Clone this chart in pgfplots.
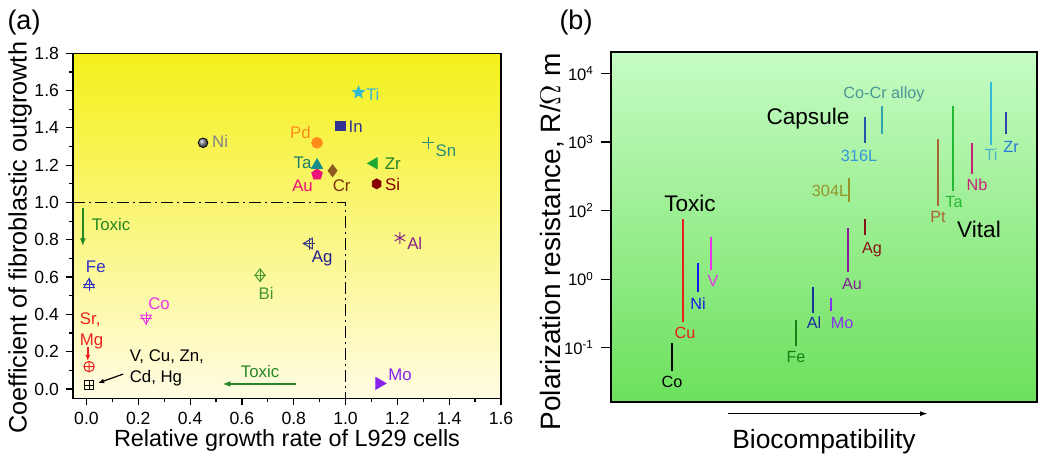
\documentclass[border=0pt]{standalone}
\usepackage{pgfplots}
\pgfplotsset{compat=1.18}
\usepackage{fontspec}
\setmainfont{Liberation Sans}
\usetikzlibrary{arrows.meta}
\definecolor{yTop}{RGB}{245,240,25}
\definecolor{yBot}{RGB}{255,252,228}
\definecolor{gTop}{RGB}{198,252,196}
\definecolor{gBot}{RGB}{108,224,92}
\definecolor{cNi}{RGB}{130,130,140}
\definecolor{cPd}{RGB}{255,140,26}
\definecolor{cIn}{RGB}{50,50,150}
\definecolor{cTi}{RGB}{50,185,215}
\definecolor{cSn}{RGB}{40,140,120}
\definecolor{cTa}{RGB}{25,140,140}
\definecolor{cTaL}{RGB}{30,125,105}
\definecolor{cAu}{RGB}{235,20,120}
\definecolor{cCr}{RGB}{140,90,30}
\definecolor{cCrL}{RGB}{120,50,10}
\definecolor{cZr}{RGB}{30,170,50}
\definecolor{cZrL}{RGB}{30,130,40}
\definecolor{cSi}{RGB}{135,0,0}
\definecolor{cAl}{RGB}{135,35,135}
\definecolor{cAg}{RGB}{60,60,130}
\definecolor{cAgL}{RGB}{30,30,140}
\definecolor{cBi}{RGB}{70,150,50}
\definecolor{cFe}{RGB}{50,50,200}
\definecolor{cCo}{RGB}{235,50,235}
\definecolor{cSr}{RGB}{235,35,35}
\definecolor{cMo}{RGB}{135,35,235}
\definecolor{cTox}{RGB}{35,135,35}
% panel b
\definecolor{bCu}{RGB}{235,30,30}
\definecolor{bNi}{RGB}{25,25,235}
\definecolor{bV}{RGB}{235,50,235}
\definecolor{bFe}{RGB}{20,130,20}
\definecolor{bAl}{RGB}{25,50,155}
\definecolor{bMo}{RGB}{135,50,235}
\definecolor{bAu}{RGB}{135,30,150}
\definecolor{bAg}{RGB}{135,20,20}
\definecolor{b304}{RGB}{150,150,40}
\definecolor{b316}{RGB}{35,85,170}
\definecolor{b316L}{RGB}{50,150,220}
\definecolor{bCoCr}{RGB}{50,165,170}
\definecolor{bCoCrL}{RGB}{75,150,150}
\definecolor{bPt}{RGB}{170,100,50}
\definecolor{bTa}{RGB}{35,185,50}
\definecolor{bNb}{RGB}{200,35,120}
\definecolor{bTi}{RGB}{50,185,220}
\definecolor{bTiL}{RGB}{80,180,200}
\definecolor{bZr}{RGB}{50,70,170}
\definecolor{bZrL}{RGB}{35,120,220}
\pgfdeclareplotmark{fstar}{%
  \pgfpathmoveto{\pgfpointpolar{90}{1.3\pgfplotmarksize}}%
  \pgfpathlineto{\pgfpointpolar{126}{0.55\pgfplotmarksize}}%
  \pgfpathlineto{\pgfpointpolar{162}{1.3\pgfplotmarksize}}%
  \pgfpathlineto{\pgfpointpolar{198}{0.55\pgfplotmarksize}}%
  \pgfpathlineto{\pgfpointpolar{234}{1.3\pgfplotmarksize}}%
  \pgfpathlineto{\pgfpointpolar{270}{0.55\pgfplotmarksize}}%
  \pgfpathlineto{\pgfpointpolar{306}{1.3\pgfplotmarksize}}%
  \pgfpathlineto{\pgfpointpolar{342}{0.55\pgfplotmarksize}}%
  \pgfpathlineto{\pgfpointpolar{18}{1.3\pgfplotmarksize}}%
  \pgfpathlineto{\pgfpointpolar{54}{0.55\pgfplotmarksize}}%
  \pgfpathclose\pgfusepathqfillstroke}
\pgfdeclareplotmark{hexa}{%
  \pgfpathmoveto{\pgfpointpolar{30}{\pgfplotmarksize}}%
  \pgfpathlineto{\pgfpointpolar{90}{\pgfplotmarksize}}%
  \pgfpathlineto{\pgfpointpolar{150}{\pgfplotmarksize}}%
  \pgfpathlineto{\pgfpointpolar{210}{\pgfplotmarksize}}%
  \pgfpathlineto{\pgfpointpolar{270}{\pgfplotmarksize}}%
  \pgfpathlineto{\pgfpointpolar{330}{\pgfplotmarksize}}%
  \pgfpathclose\pgfusepathqfillstroke}
\newcommand{\lab}{\fontsize{8.4}{9.4}\selectfont}
\newcommand{\blab}{\fontsize{8.1}{9}\selectfont}
\newcommand{\biglab}{\fontsize{11.3}{13}\selectfont}
\newcommand{\axl}{\fontsize{11.7}{13}\selectfont}
\newcommand{\tkl}{\fontsize{8.8}{10}\selectfont}
\begin{document}
\begin{tikzpicture}
\useasboundingbox (0pt,0pt) rectangle (519.5pt,227pt);
\node[font=\fontsize{13.5}{15}\selectfont] at (12pt,215.5pt) {(a)};
\node[font=\fontsize{13.5}{15}\selectfont] at (288pt,215.5pt) {(b)};
\begin{axis}[
  at={(36.5pt,27.85pt)}, anchor=south west,
  scale only axis, width=214pt, height=172.5pt,
  xmin=-0.052, xmax=1.6, ymin=-0.05, ymax=1.8,
  axis background/.style={shade, top color=yTop, bottom color=yBot},
  axis line style={line width=0.75pt},
  xtick={0,0.2,...,1.6}, ytick={0,0.2,...,1.8},
  minor tick num=1,
  tick pos=left, tick align=outside,
  major tick length=3.5pt, minor tick length=2pt,
  every tick/.style={black, line width=0.6pt},
  /pgf/number format/assume math mode=true,
  /pgf/number format/fixed, /pgf/number format/fixed zerofill,
  /pgf/number format/precision=1,
  ticklabel style={font=\tkl},
  xlabel={Relative growth rate of L929 cells},
  ylabel={Coefficient of fibroblastic outgrowth},
  xlabel style={font=\axl, at={(axis description cs:0.5,0)}, anchor=center, yshift=-21pt},
  ylabel style={font=\fontsize{12.6}{14}\selectfont, at={(axis description cs:0,0.5)}, anchor=center, yshift=26.5pt, xshift=-6pt},
  clip=false,
]
% markers
\addplot[only marks, mark=ball, mark size=2.4pt, mark options={ball color=cNi}] coordinates {(0.45,1.32)};
\addplot[only marks, mark=*, mark size=2.7pt, color=cPd] coordinates {(0.89,1.32)};
\addplot[only marks, mark=square*, mark size=2.4pt, color=cIn] coordinates {(0.98,1.41)};
\addplot[only marks, mark=fstar, mark size=2.4pt, color=cTi] coordinates {(1.05,1.59)};
\addplot[only marks, mark=+, mark size=3pt, color=cSn, mark options={line width=0.4pt}] coordinates {(1.32,1.32)};
\addplot[only marks, mark=pentagon*, mark size=2.8pt, color=cAu] coordinates {(0.89,1.15)};
\addplot[only marks, mark=triangle*, mark size=3.2pt, color=cTa] coordinates {(0.89,1.20)};
\addplot[only marks, mark=diamond*, mark size=3pt, color=cCr] coordinates {(0.95,1.17)};
\addplot[only marks, mark=triangle*, mark size=3.2pt, color=cZr, mark options={rotate=90}] coordinates {(1.11,1.21)};
\addplot[only marks, mark=hexa, mark size=2.5pt, color=cSi] coordinates {(1.12,1.10)};
\addplot[only marks, mark=asterisk, mark size=3pt, color=cAl, mark options={line width=0.5pt}] coordinates {(1.21,0.81)};
\addplot[only marks, mark=triangle, mark size=3pt, color=cAg, mark options={rotate=90, line width=0.5pt}] coordinates {(0.86,0.78)};
\addplot[only marks, mark=+, mark size=3pt, color=cAg, mark options={line width=0.5pt}] coordinates {(0.86,0.78)};
\addplot[only marks, mark=diamond, mark size=3.2pt, color=cBi, mark options={line width=0.5pt}] coordinates {(0.67,0.61)};
\addplot[only marks, mark=+, mark size=3pt, color=cBi, mark options={line width=0.5pt}] coordinates {(0.67,0.61)};
\addplot[only marks, mark=triangle, mark size=3pt, color=cFe, mark options={line width=0.5pt}] coordinates {(0.01,0.56)};
\addplot[only marks, mark=+, mark size=3.2pt, color=cFe, mark options={line width=0.5pt}] coordinates {(0.01,0.56)};
\addplot[only marks, mark=triangle, mark size=3pt, color=cCo, mark options={rotate=180, line width=0.5pt}] coordinates {(0.23,0.38)};
\addplot[only marks, mark=+, mark size=3.2pt, color=cCo, mark options={line width=0.5pt}] coordinates {(0.23,0.38)};
\addplot[only marks, mark=oplus, mark size=2.6pt, color=cSr, mark options={line width=0.5pt}] coordinates {(0.01,0.12)};
\addplot[only marks, mark=square, mark size=2.2pt, color=black, mark options={line width=0.5pt}] coordinates {(0.01,0.02)};
\addplot[only marks, mark=+, mark size=2.2pt, color=black, mark options={line width=0.5pt}] coordinates {(0.01,0.02)};
\addplot[only marks, mark=triangle*, mark size=3.4pt, color=cMo, mark options={rotate=-90}] coordinates {(1.13,0.03)};
% boundary lines
\draw[line width=0.75pt, dash pattern=on 6pt off 2pt on 1pt off 2pt] (axis cs:-0.052,1) -- (axis cs:1,1) -- (axis cs:1,-0.05);
\draw[cTox, line width=0.8pt, -{Latex[length=4pt,width=3pt]}] (axis cs:-0.014,0.97) -- (axis cs:-0.014,0.765);
\node[cTox, font=\lab] at (axis cs:0.095,0.88) {Toxic};
\draw[cTox, line width=0.8pt, -{Latex[length=4pt,width=3pt]}] (axis cs:0.81,0.027) -- (axis cs:0.525,0.027);
\node[cTox, font=\lab] at (axis cs:0.67,0.092) {Toxic};
\draw[cSr, line width=0.8pt, -{Latex[length=3pt,width=2.5pt]}] (axis cs:0.005,0.225) -- (axis cs:0.005,0.15);
\draw[black, line width=0.6pt, -{Latex[length=3pt,width=2.5pt]}] (axis cs:0.142,0.08) -- (axis cs:0.045,0.032);
% labels
\node[cNi, font=\lab] at (axis cs:0.516,1.33) {Ni};
\node[cPd, font=\lab] at (axis cs:0.826,1.373) {Pd};
\node[cIn, font=\lab] at (axis cs:1.039,1.405) {In};
\node[cTi, font=\lab] at (axis cs:1.105,1.582) {Ti};
\node[cSn, font=\lab] at (axis cs:1.387,1.28) {Sn};
\node[cTaL, font=\lab] at (axis cs:0.834,1.212) {Ta};
\node[cAu, font=\lab] at (axis cs:0.834,1.088) {Au};
\node[cCrL, font=\lab] at (axis cs:0.985,1.088) {Cr};
\node[cZrL, font=\lab] at (axis cs:1.182,1.206) {Zr};
\node[cSi, font=\lab] at (axis cs:1.182,1.094) {Si};
\node[cAl, font=\lab] at (axis cs:1.267,0.78) {Al};
\node[cAgL, font=\lab] at (axis cs:0.91,0.70) {Ag};
\node[cBi, font=\lab] at (axis cs:0.693,0.515) {Bi};
\node[cFe, font=\lab] at (axis cs:0.036,0.655) {Fe};
\node[cCo, font=\lab] at (axis cs:0.28,0.456) {Co};
\node[cSr, font=\lab, align=left] at (axis cs:0.02,0.31) {Sr,\\[1pt]Mg};
\node[black, font=\lab, align=left, anchor=west] at (axis cs:0.14,0.112) {V, Cu, Zn,\\[1pt]Cd, Hg};
\node[cMo, font=\lab] at (axis cs:1.21,0.075) {Mo};
\end{axis}
\begin{axis}[
  at={(305.5pt,26pt)}, anchor=south west,
  scale only axis, width=213pt, height=175pt,
  xmin=611, xmax=1037, ymin=-0.79, ymax=4.31,
  axis background/.style={shade, top color=gTop, bottom color=gBot},
  axis line style={line width=0.75pt},
  xtick=\empty,
  ytick={0,1,2,3,4},
  yticklabels={10\textsuperscript{-1},10\textsuperscript{0},10\textsuperscript{2},10\textsuperscript{3},10\textsuperscript{4}},
  ytick pos=left, tick align=outside, major tick length=5pt,
  every tick/.style={black, line width=0.6pt},
  ticklabel style={font=\fontsize{8.3}{9}\selectfont},
  xlabel={Biocompatibility},
  ylabel={Polarization resistance, R/$\Omega$ m},
  xlabel style={font=\fontsize{13.2}{15}\selectfont, at={(axis description cs:0.5,0)}, anchor=center, yshift=-20pt},
  ylabel style={font=\fontsize{14}{16}\selectfont, at={(axis description cs:0,0.5)}, anchor=center, yshift=29.5pt, xshift=-7.5pt},
  clip=false,
]
\addplot[black, line width=1.1pt] coordinates {(672,0.07)(672,-0.34)};
\addplot[bCu, line width=1.1pt] coordinates {(683,1.87)(683,0.38)};
\addplot[bNi, line width=1.1pt] coordinates {(698,1.24)(698,0.82)};
\addplot[bV, line width=1.1pt] coordinates {(711,1.62)(711,1.14)};
\addplot[bFe, line width=1.1pt] coordinates {(796,0.41)(796,0.03)};
\addplot[bAl, line width=1.1pt] coordinates {(813,0.88)(813,0.51)};
\addplot[bMo, line width=1.1pt] coordinates {(831,0.73)(831,0.53)};
\addplot[bAu, line width=1.1pt] coordinates {(848,1.74)(848,1.11)};
\addplot[bAg, line width=1.1pt] coordinates {(865,1.88)(865,1.64)};
\addplot[b304, line width=1.1pt] coordinates {(849,2.47)(849,2.13)};
\addplot[b316, line width=1.1pt] coordinates {(865,3.37)(865,2.99)};
\addplot[bCoCr, line width=1.1pt] coordinates {(882,3.52)(882,3.11)};
\addplot[bPt, line width=1.1pt] coordinates {(938,3.04)(938,2.07)};
\addplot[bTa, line width=1.1pt] coordinates {(953,3.52)(953,2.28)};
\addplot[bNb, line width=1.1pt] coordinates {(972,2.98)(972,2.53)};
\addplot[bTi, line width=1.1pt] coordinates {(991,3.87)(991,2.96)};
\addplot[bZr, line width=1.1pt] coordinates {(1006,3.43)(1006,3.11)};
\node[black, font=\blab] at (axis cs:672,-0.50) {Co};
\node[bCu, font=\blab] at (axis cs:685,0.22) {Cu};
\node[bNi, font=\blab] at (axis cs:698,0.64) {Ni};
\node[bV, font=\blab] at (axis cs:713,0.98) {V};
\node[bFe, font=\blab] at (axis cs:796,-0.13) {Fe};
\node[bAl, font=\blab] at (axis cs:814,0.36) {Al};
\node[bMo, font=\blab] at (axis cs:842,0.36) {Mo};
\node[bAu, font=\blab] at (axis cs:852,0.93) {Au};
\node[bAg, font=\blab] at (axis cs:872,1.43) {Ag};
\node[b304, font=\blab] at (axis cs:830,2.28) {304L};
\node[b316L, font=\blab] at (axis cs:859,2.80) {316L};
\node[bCoCrL, font=\blab] at (axis cs:884,3.69) {Co-Cr alloy};
\node[black, font=\biglab] at (axis cs:808,3.34) {Capsule};
\node[black, font=\biglab] at (axis cs:690,2.10) {Toxic};
\node[bPt, font=\blab] at (axis cs:938,1.90) {Pt};
\node[bTa, font=\blab] at (axis cs:954,2.12) {Ta};
\node[bNb, font=\blab] at (axis cs:977,2.38) {Nb};
\node[bTiL, font=\blab] at (axis cs:991,2.82) {Ti};
\node[bZrL, font=\blab] at (axis cs:1011,2.93) {Zr};
\node[black, font=\biglab] at (axis cs:979,1.72) {Vital};
\draw[black, line width=0.7pt, -{Latex[length=4pt,width=2.5pt]}] (axis cs:728,-0.96) -- (axis cs:928,-0.96);
\end{axis}
\end{tikzpicture}
\end{document}
